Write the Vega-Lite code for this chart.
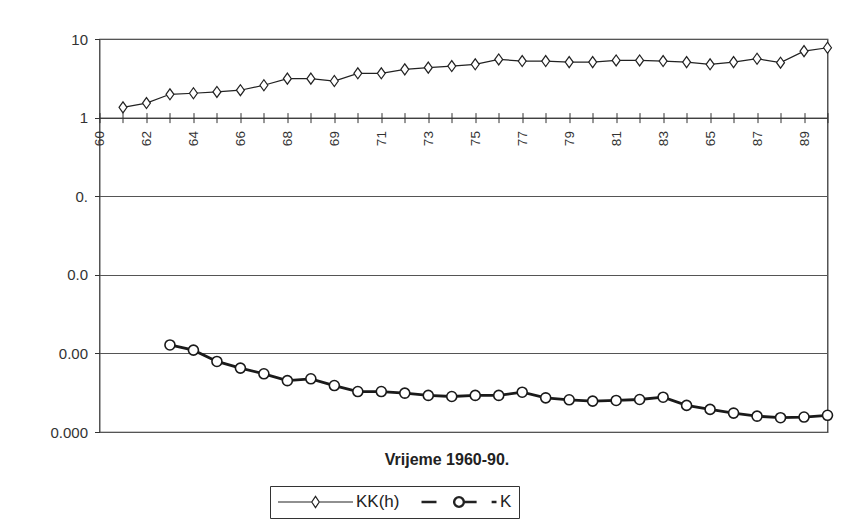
{
  "$schema": "https://vega.github.io/schema/vega-lite/v6.json",
  "width": 728,
  "height": 393,
  "autosize": {"type": "none"},
  "padding": {"left": 99.5, "top": 39, "right": 17.5, "bottom": 99},
  "background": "white",
  "config": {
    "font": "Liberation Sans",
    "view": {"stroke": "#2a2a2a", "strokeWidth": 1.2}
  },
  "data": {
    "values": [
      {"year": 1961, "series": "KK(h)", "value": 1.35},
      {"year": 1962, "series": "KK(h)", "value": 1.53},
      {"year": 1963, "series": "KK(h)", "value": 1.98},
      {"year": 1964, "series": "KK(h)", "value": 2.04},
      {"year": 1965, "series": "KK(h)", "value": 2.12},
      {"year": 1966, "series": "KK(h)", "value": 2.23},
      {"year": 1967, "series": "KK(h)", "value": 2.58},
      {"year": 1968, "series": "KK(h)", "value": 3.13},
      {"year": 1969, "series": "KK(h)", "value": 3.13},
      {"year": 1970, "series": "KK(h)", "value": 2.92},
      {"year": 1971, "series": "KK(h)", "value": 3.66},
      {"year": 1972, "series": "KK(h)", "value": 3.66},
      {"year": 1973, "series": "KK(h)", "value": 4.11},
      {"year": 1974, "series": "KK(h)", "value": 4.32},
      {"year": 1975, "series": "KK(h)", "value": 4.53},
      {"year": 1976, "series": "KK(h)", "value": 4.76},
      {"year": 1977, "series": "KK(h)", "value": 5.5},
      {"year": 1978, "series": "KK(h)", "value": 5.24},
      {"year": 1979, "series": "KK(h)", "value": 5.24},
      {"year": 1980, "series": "KK(h)", "value": 5.08},
      {"year": 1981, "series": "KK(h)", "value": 5.08},
      {"year": 1982, "series": "KK(h)", "value": 5.34},
      {"year": 1983, "series": "KK(h)", "value": 5.34},
      {"year": 1984, "series": "KK(h)", "value": 5.24},
      {"year": 1985, "series": "KK(h)", "value": 5.08},
      {"year": 1986, "series": "KK(h)", "value": 4.76},
      {"year": 1987, "series": "KK(h)", "value": 5.08},
      {"year": 1988, "series": "KK(h)", "value": 5.61},
      {"year": 1989, "series": "KK(h)", "value": 5.0},
      {"year": 1990, "series": "KK(h)", "value": 7.01},
      {"year": 1991, "series": "KK(h)", "value": 7.74},
      {"year": 1963, "series": "K", "value": 0.00128},
      {"year": 1964, "series": "K", "value": 0.00110},
      {"year": 1965, "series": "K", "value": 0.00079},
      {"year": 1966, "series": "K", "value": 0.00065},
      {"year": 1967, "series": "K", "value": 0.00055},
      {"year": 1968, "series": "K", "value": 0.00045},
      {"year": 1969, "series": "K", "value": 0.000475},
      {"year": 1970, "series": "K", "value": 0.00039},
      {"year": 1971, "series": "K", "value": 0.000327},
      {"year": 1972, "series": "K", "value": 0.000327},
      {"year": 1973, "series": "K", "value": 0.000312},
      {"year": 1974, "series": "K", "value": 0.000292},
      {"year": 1975, "series": "K", "value": 0.000283},
      {"year": 1976, "series": "K", "value": 0.000292},
      {"year": 1977, "series": "K", "value": 0.000292},
      {"year": 1978, "series": "K", "value": 0.000321},
      {"year": 1979, "series": "K", "value": 0.000272},
      {"year": 1980, "series": "K", "value": 0.000257},
      {"year": 1981, "series": "K", "value": 0.000247},
      {"year": 1982, "series": "K", "value": 0.000252},
      {"year": 1983, "series": "K", "value": 0.000259},
      {"year": 1984, "series": "K", "value": 0.000277},
      {"year": 1985, "series": "K", "value": 0.000218},
      {"year": 1986, "series": "K", "value": 0.000194},
      {"year": 1987, "series": "K", "value": 0.000174},
      {"year": 1988, "series": "K", "value": 0.000159},
      {"year": 1989, "series": "K", "value": 0.000152},
      {"year": 1990, "series": "K", "value": 0.000155},
      {"year": 1991, "series": "K", "value": 0.000163}
    ]
  },
  "encoding": {
    "x": {
      "field": "year",
      "type": "quantitative",
      "scale": {"domain": [1960, 1991], "nice": false, "zero": false},
      "axis": null
    },
    "y": {
      "field": "value",
      "type": "quantitative",
      "scale": {"type": "log", "domain": [0.0001, 10], "nice": false},
      "axis": {
        "values": [0.0001, 0.001, 0.01, 0.1, 1, 10],
        "labelExpr": "datum.value > 5 ? '10' : datum.value > 0.5 ? '1' : datum.value > 0.05 ? '0.' : datum.value > 0.005 ? '0.0' : datum.value > 0.0005 ? '0.00' : '0.000'",
        "labelFontSize": 15,
        "labelColor": "#333",
        "labelPadding": 7,
        "labelFlush": false,
        "tickSize": 5,
        "tickColor": "#333",
        "domain": false,
        "grid": true,
        "gridColor": "#555",
        "gridWidth": 1,
        "title": null
      }
    }
  },
  "layer": [
    {
      "transform": [{"filter": "datum.series === 'KK(h)'"}],
      "mark": {"type": "line", "color": "#222", "strokeWidth": 1.2},
      "encoding": {
        "x": {
          "field": "year",
          "type": "quantitative",
          "scale": {"domain": [1960, 1991], "nice": false, "zero": false},
          "axis": {
            "orient": "bottom",
            "offset": -314.4,
            "values": [1960,1961,1962,1963,1964,1965,1966,1967,1968,1969,1970,1971,1972,1973,1974,1975,1976,1977,1978,1979,1980,1981,1982,1983,1984,1985,1986,1987,1988,1989,1990,1991],
            "labelExpr": "['60','','62','','64','','66','','68','','69','','71','','73','','75','','77','','79','','81','','83','','65','','87','','89',''][datum.value - 1960]",
            "labelAngle": -90,
            "labelFontSize": 13.5,
            "labelColor": "#333",
            "labelPadding": 8,
            "labelFlush": false,
            "labelOverlap": false,
            "labelBound": false,
            "tickSize": 5,
            "tickColor": "#333",
            "domainColor": "#333",
            "grid": false,
            "title": null
          }
        }
      }
    },
    {
      "transform": [{"filter": "datum.series === 'KK(h)'"}],
      "mark": {
        "type": "point",
        "shape": "M-0.72,0L0,-1L0.72,0L0,1Z",
        "size": 121,
        "filled": true,
        "fill": "white",
        "stroke": "#222",
        "strokeWidth": 1.2,
        "opacity": 1
      },
      "encoding": {
        "x": {
          "field": "year",
          "type": "quantitative",
          "scale": {"domain": [1960, 1991], "nice": false, "zero": false},
          "axis": {
            "orient": "top",
            "offset": -78.6,
            "values": [1960,1961,1962,1963,1964,1965,1966,1967,1968,1969,1970,1971,1972,1973,1974,1975,1976,1977,1978,1979,1980,1981,1982,1983,1984,1985,1986,1987,1988,1989,1990,1991],
            "labels": false,
            "domain": false,
            "tickSize": 5,
            "tickColor": "#333",
            "grid": false,
            "title": null
          }
        }
      }
    },
    {
      "transform": [{"filter": "datum.series === 'K'"}],
      "mark": {"type": "line", "color": "#1a1a1a", "strokeWidth": 2.8},
      "encoding": {
        "x": {
          "field": "year",
          "type": "quantitative",
          "scale": {"domain": [1960, 1991], "nice": false, "zero": false},
          "axis": {
            "orient": "bottom",
            "labels": false,
            "ticks": false,
            "domain": false,
            "grid": false,
            "title": "Vrijeme 1960-90.",
            "titleFontSize": 16,
            "titleFontWeight": "bold",
            "titleColor": "#222",
            "titlePadding": 19,
            "titleX": 347
          }
        }
      }
    },
    {
      "transform": [{"filter": "datum.series === 'K'"}],
      "mark": {
        "type": "point",
        "shape": "circle",
        "size": 100,
        "filled": true,
        "fill": "white",
        "stroke": "#1a1a1a",
        "strokeWidth": 1.6,
        "opacity": 1
      }
    },
    {
      "mark": {"type": "point", "filled": false, "color": "#222", "opacity": 0},
      "encoding": {
        "shape": {
          "field": "series",
          "type": "nominal",
          "scale": {
            "domain": ["KK(h)", "K"],
            "range": [
              "M-1,0L-0.1,0M0.1,0L1,0M0,-0.15L0.1,0L0,0.15L-0.1,0Z",
              "M-1,0L-0.6,0M-0.13,0A0.13,0.13,0,1,1,0.13,0A0.13,0.13,0,1,1,-0.13,0M0.13,0L0.47,0M0.87,0L1,0"
            ]
          },
          "legend": {
            "orient": "none",
            "legendX": 170.5,
            "legendY": 447,
            "direction": "horizontal",
            "title": null,
            "strokeColor": "#333",
            "fillColor": "white",
            "padding": 7,
            "labelFontSize": 17,
            "labelColor": "#222",
            "labelOffset": 2,
            "columnPadding": 20,
            "symbolSize": 5625,
            "clipHeight": 18,
            "symbolOpacity": 1,
            "symbolStrokeColor": "#222"
          }
        },
        "strokeWidth": {
          "field": "series",
          "type": "nominal",
          "scale": {"domain": ["KK(h)", "K"], "range": [1.2, 2.4]},
          "legend": {
            "orient": "none",
            "legendX": 170.5,
            "legendY": 447,
            "direction": "horizontal",
            "title": null,
            "strokeColor": "#333",
            "fillColor": "white",
            "padding": 7,
            "labelFontSize": 17,
            "labelColor": "#222",
            "labelOffset": 2,
            "columnPadding": 20,
            "symbolSize": 5625,
            "clipHeight": 18,
            "symbolOpacity": 1,
            "symbolStrokeColor": "#222"
          }
        }
      }
    }
  ]
}
